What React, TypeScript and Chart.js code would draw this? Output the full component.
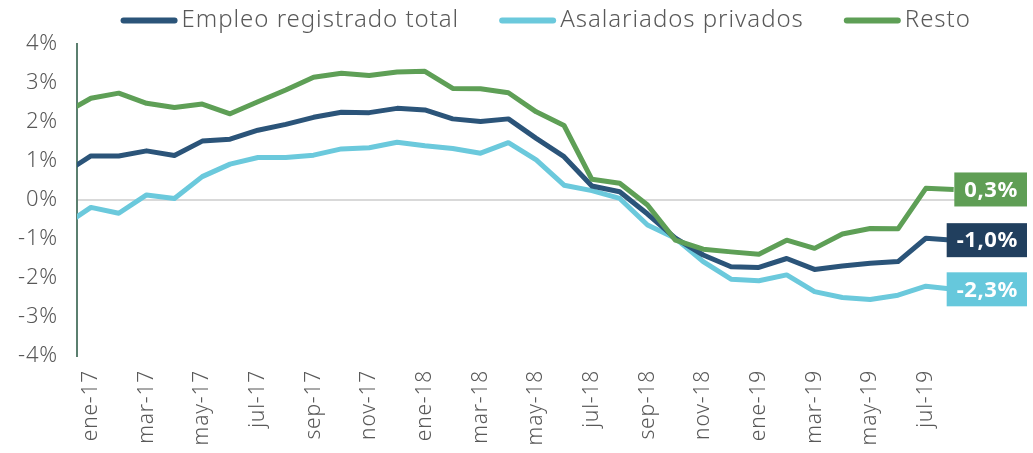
import React, { useEffect, useRef } from 'react';
import { Chart, registerables } from 'chart.js';

Chart.register(...registerables);

// Months from dic-16 (partially visible at the left edge) to ago-19
const months = [
  'dic-16',
  'ene-17', 'feb-17', 'mar-17', 'abr-17', 'may-17', 'jun-17', 'jul-17', 'ago-17', 'sep-17', 'oct-17', 'nov-17', 'dic-17',
  'ene-18', 'feb-18', 'mar-18', 'abr-18', 'may-18', 'jun-18', 'jul-18', 'ago-18', 'sep-18', 'oct-18', 'nov-18', 'dic-18',
  'ene-19', 'feb-19', 'mar-19', 'abr-19', 'may-19', 'jun-19', 'jul-19', 'ago-19',
];

const tickLabels = [
  'ene-17', 'mar-17', 'may-17', 'jul-17', 'sep-17', 'nov-17',
  'ene-18', 'mar-18', 'may-18', 'jul-18', 'sep-18', 'nov-18',
  'ene-19', 'mar-19', 'may-19', 'jul-19',
];

const yTicks = [-4, -3, -2, -1, 0, 1, 2, 3, 4];

const empleoTotal = [
  0.67,
  1.13, 1.13, 1.26, 1.14, 1.51, 1.56, 1.79, 1.94, 2.12, 2.25, 2.24, 2.35,
  2.31, 2.08, 2.01, 2.08, 1.58, 1.11, 0.36, 0.21, -0.36, -0.98, -1.41, -1.71,
  -1.73, -1.50, -1.78, -1.69, -1.62, -1.58, -0.98, -1.03,
];

const asalariadosPrivados = [
  -0.67,
  -0.19, -0.34, 0.13, 0.04, 0.60, 0.92, 1.09, 1.09, 1.15, 1.31, 1.34, 1.48,
  1.39, 1.32, 1.20, 1.47, 1.03, 0.38, 0.24, 0.04, -0.64, -0.98, -1.58, -2.03,
  -2.07, -1.92, -2.35, -2.50, -2.55, -2.44, -2.21, -2.29,
];

const resto = [
  2.21,
  2.61, 2.74, 2.48, 2.37, 2.46, 2.21, 2.52, 2.82, 3.15, 3.25, 3.19, 3.28,
  3.30, 2.86, 2.85, 2.75, 2.26, 1.91, 0.53, 0.43, -0.13, -1.03, -1.26, -1.33,
  -1.39, -1.03, -1.24, -0.87, -0.73, -0.74, 0.30, 0.27,
];

const seriesNames = ['Empleo registrado total', 'Asalariados privados', 'Resto'];
const lineColors = ['#2b5479', '#6bc9dc', '#5e9f56'];
const boxColors = ['#213f5e', '#66c8dc', '#5f9e55'];

const FONT = '"Noto Sans", "Open Sans", Lato, sans-serif';
const TEXT_COLOR = '#595959';

const xIndex = (label: string) => months.indexOf(label) - 1;

const toPoints = (arr: number[]) => arr.map((v, i) => ({ x: i - 1, y: v }));

const spacingPlugin = {
  id: 'letterSpacing',
  beforeDraw(chart: any) {
    (chart.ctx as any).letterSpacing = '0.8px';
  },
};

const legendPlugin = {
  id: 'customLegend',
  afterDraw(chart: any) {
    const ctx = chart.ctx;
    ctx.save();
    ctx.font = `300 24px ${FONT}`;
    (ctx as any).letterSpacing = '0px';
    const base = ctx.measureText(seriesNames[0]).width;
    const extra = Math.max(0, (277.6 - base) / seriesNames[0].length);
    (ctx as any).letterSpacing = `${extra.toFixed(2)}px`;
    ctx.textBaseline = 'middle';
    ctx.textAlign = 'left';
    const swatch = 57;
    const gapText = 4;
    const gapItem = 40;
    const widths = seriesNames.map((n) => ctx.measureText(n).width);
    const total = widths.reduce((a, b) => a + b, 0) + seriesNames.length * (swatch + gapText) + (seriesNames.length - 1) * gapItem;
    let x = 545.7 - total / 2;
    const y = 20.5;
    seriesNames.forEach((name, i) => {
      ctx.strokeStyle = lineColors[i];
      ctx.lineWidth = 6;
      ctx.lineCap = 'round';
      ctx.beginPath();
      ctx.moveTo(x + 3, y);
      ctx.lineTo(x + swatch - 3, y);
      ctx.stroke();
      ctx.fillStyle = TEXT_COLOR;
      ctx.fillText(name, x + swatch + gapText, y);
      x += swatch + gapText + widths[i] + gapItem;
    });
    ctx.restore();
  },
};

const endLabelPlugin = {
  id: 'endLabels',
  afterDatasetsDraw(chart: any) {
    const ctx = chart.ctx;
    const yScale = chart.scales.y;
    const right = chart.width - 6;
    ctx.save();
    ctx.font = `bold 22px ${FONT}`;
    (ctx as any).letterSpacing = '0.6px';
    ctx.textBaseline = 'middle';
    ctx.textAlign = 'right';
    chart.data.datasets.forEach((ds: any) => {
      const last = ds.data[ds.data.length - 1].y;
      const txt = last.toFixed(1).replace('.', ',') + '%';
      const y = yScale.getPixelForValue(last);
      const w = ctx.measureText(txt).width + 19;
      const h = 34;
      ctx.fillStyle = boxColors[ds.colorIndex];
      ctx.fillRect(right - w, y - h / 2, w, h);
      ctx.fillStyle = '#ffffff';
      ctx.fillText(txt, right - 9, y + 1);
    });
    ctx.restore();
  },
};

export default function App() {
  const canvasRef = useRef<HTMLCanvasElement | null>(null);

  useEffect(() => {
    if (!canvasRef.current) return;
    const seriesData = [empleoTotal, asalariadosPrivados, resto];
    const drawOrder = [1, 2, 0];
    const chart = new Chart(canvasRef.current, {
      type: 'line',
      data: {
        datasets: seriesData.map((arr, i) => ({
          label: seriesNames[i],
          data: toPoints(arr),
          borderColor: lineColors[i],
          backgroundColor: lineColors[i],
          borderWidth: 5,
          pointRadius: 0,
          tension: 0,
          borderJoinStyle: 'round',
          borderCapStyle: 'butt',
          clip: 0,
          order: drawOrder[i],
          colorIndex: i,
        })) as any,
      },
      options: {
        animation: false,
        responsive: true,
        maintainAspectRatio: false,
        layout: { padding: { top: 44, right: 65.4, left: 0, bottom: 0 } },
        plugins: {
          legend: { display: false },
          tooltip: { enabled: false },
        },
        scales: {
          x: {
            type: 'linear',
            min: -0.5,
            max: 31.5,
            afterFit: (scale: any) => {
              scale.height = 97;
            },
            afterBuildTicks: (scale: any) => {
              scale.ticks = tickLabels.map((l) => ({ value: xIndex(l) }));
            },
            grid: { display: false, drawTicks: false },
            border: { display: false },
            ticks: {
              autoSkip: false,
              minRotation: 90,
              maxRotation: 90,
              padding: 14,
              color: TEXT_COLOR,
              font: { family: FONT, size: 21, weight: '300' as any },
              callback: (v: any) => {
                const lbl = months[Number(v) + 1];
                return tickLabels.includes(lbl) ? lbl : '';
              },
            },
          },
          y: {
            min: -4,
            max: 4,
            afterFit: (scale: any) => {
              scale.width = 77;
            },
            afterBuildTicks: (scale: any) => {
              scale.ticks = yTicks.map((v) => ({ value: v }));
            },
            grid: {
              drawTicks: false,
              color: (c: any) => (c.tick && c.tick.value === 0 ? '#d9d9d9' : 'rgba(0,0,0,0)'),
              lineWidth: 2,
            },
            border: { display: true, color: '#5b7f6f', width: 2 },
            ticks: {
              padding: 19,
              color: TEXT_COLOR,
              font: { family: FONT, size: 22, weight: '300' as any },
              callback: (v: any) => `${v}%`,
            },
          },
        },
      },
      plugins: [spacingPlugin, legendPlugin, endLabelPlugin],
    });
    return () => chart.destroy();
  }, []);

  return (
    <div style={{ position: 'absolute', left: 0, top: 0, width: 1033, height: 453 }}>
      <canvas ref={canvasRef} />
    </div>
  );
}
